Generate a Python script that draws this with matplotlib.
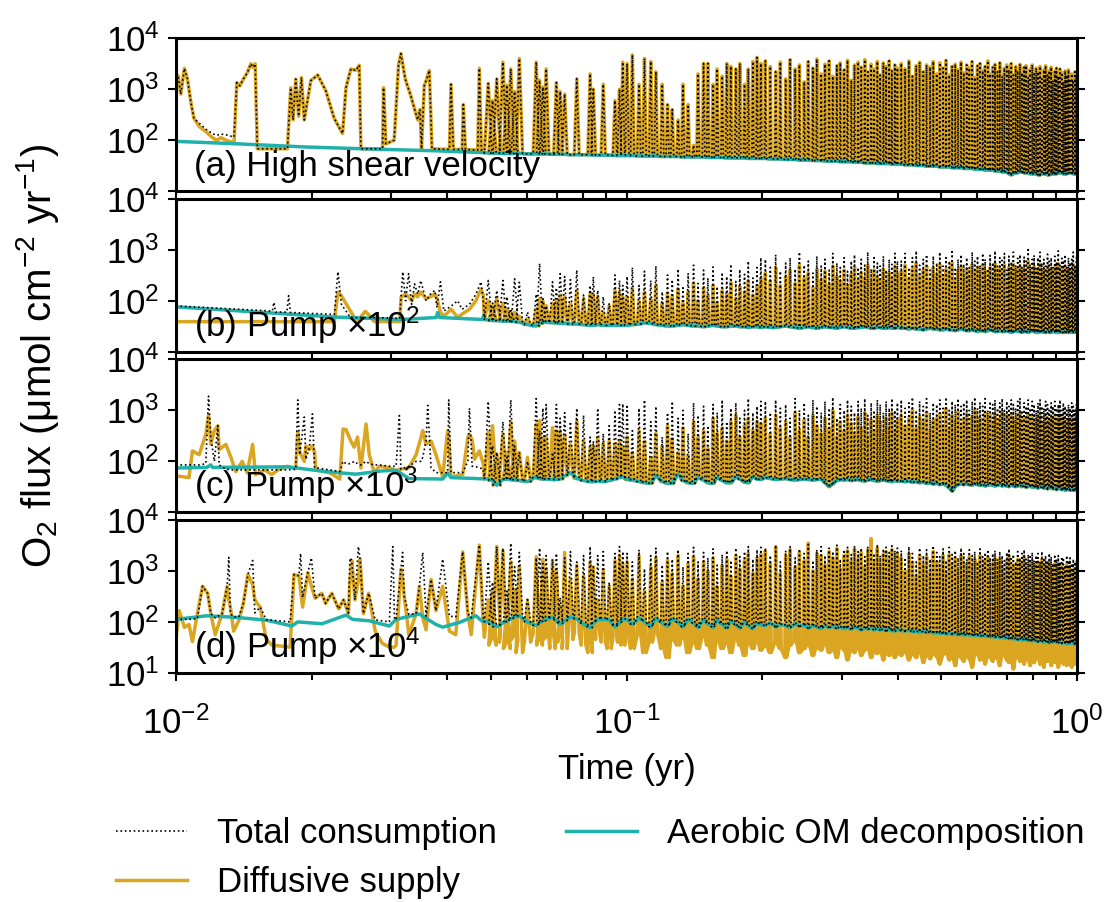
import numpy as np
import matplotlib.pyplot as plt
from matplotlib.ticker import NullLocator, LogLocator

plt.rcParams['font.family'] = ['Liberation Sans', 'DejaVu Sans']
plt.rcParams['mathtext.fontset'] = 'custom'
plt.rcParams['mathtext.rm'] = 'Liberation Sans'
plt.rcParams['mathtext.it'] = 'Liberation Sans:italic'
plt.rcParams['mathtext.bf'] = 'Liberation Sans:bold'
plt.rcParams['font.size'] = 25
plt.rcParams['axes.linewidth'] = 2.2

# times are in days (0.01 yr = 3.65 d), flux values in umol cm-2 yr-1

# ---- panel (a) early part (explicit vertices) ----
early_day_a = [3.65, 3.69, 3.74, 3.81, 3.87, 3.94, 4.00, 4.11, 4.25, 4.40, 4.49, 4.59, 4.71, 4.91,
               4.98, 5.06, 5.15, 5.26, 5.35, 5.41, 5.47, 5.53, 6.45, 6.56, 6.64, 6.73, 6.83, 6.93,
               7.03, 7.27, 7.53, 7.85, 8.19, 8.55, 8.70, 8.92, 9.15, 9.31, 9.39, 10.49, 10.54, 10.67,
               11.13, 11.38, 11.52, 11.78, 12.12, 12.55, 12.70, 12.80, 12.98, 13.14, 13.32, 13.50,
               14.76, 14.88, 15.06, 15.75, 15.85, 16.02, 17.06, 17.20, 17.38, 17.55]
early_sup_a = [1700, 1860, 800, 2570, 1580, 540, 270, 186, 148, 112, 100, 112, 100, 89,
               1350, 1170, 1580, 2140, 3160, 2700, 3160, 68, 68, 1070, 250, 1580, 295, 1700,
               250, 1480, 1900, 930, 270, 135, 1070, 2500, 2340, 2950, 68, 68, 1070, 85,
               100, 2950, 5000, 1580, 740, 250, 400, 68, 1170, 1580, 2340, 68,
               66, 1250, 66, 66, 500, 66, 64, 2570, 64, 64]
early_tot_a = [1700, 1860, 800, 2570, 1580, 540, 270, 215, 165, 135, 125, 132, 128, 115,
               1350, 1170, 1580, 2140, 3160, 2700, 3160, 68, 68, 1070, 250, 1580, 295, 1700,
               250, 1480, 1900, 930, 270, 135, 1070, 2500, 2340, 2950, 68, 68, 1070, 85,
               100, 2950, 5000, 1580, 740, 250, 400, 68, 1170, 1580, 2340, 68,
               66, 1250, 66, 66, 500, 66, 64, 2570, 64, 64]
aer_early_day_a = [3.65, 5.0, 7.0, 10.0, 13.8, 17.7]
aer_early_a = [95, 85, 74, 67, 62, 57]

# ---- panel (b) early part ----
early_day_b = [3.65, 5.97, 6.02, 6.07, 6.43, 6.49, 6.55, 8.20, 8.35, 8.50, 8.90, 9.20, 9.60, 9.80,
               10.05, 11.45, 11.53, 11.63, 11.80, 11.98, 12.17, 12.35, 12.55, 12.75, 13.10, 13.40,
               13.70, 13.85, 14.10, 14.35, 14.90, 15.40, 15.75, 16.35, 16.90, 17.35, 17.55]
early_tot_b = [79, 63, 93, 60, 60, 126, 59, 54, 370, 85, 47, 47, 47, 47,
               47, 45, 120, 370, 100, 340, 85, 215, 135, 250, 100, 135,
               160, 74, 235, 63, 79, 100, 68, 85, 135, 235, 100]
early_sup_b = [39, 39, 39, 39, 39, 39, 39, 39, 148, 125, 63, 39, 62, 52,
               39, 39, 118, 125, 135, 120, 100, 135, 120, 148, 110, 120,
               135, 110, 60, 50, 68, 47, 55, 68, 100, 170, 130]
aer_early_day_b = [3.65, 8.2, 11.6, 13.8, 13.9, 14.05, 17.45, 17.6, 17.75]
aer_early_b = [76, 48, 43, 47, 59, 47, 43, 52, 43]

# ---- panel (c) early part ----
early_day_c = [3.65, 3.90, 3.97, 4.11, 4.25, 4.31, 4.36, 4.44, 4.52, 4.55, 4.71, 4.84, 4.95, 5.12,
               5.25, 5.40, 5.48, 5.75, 5.95, 6.15, 6.45, 6.73, 6.80, 6.87, 7.03, 7.09, 7.21, 7.33,
               7.41, 7.46, 8.00, 8.43, 8.57, 8.70, 8.92, 9.07, 9.23, 9.39, 9.64, 9.80, 10.05, 10.32,
               10.86, 11.24, 11.43, 11.52, 12.00, 12.45, 12.77, 12.88, 13.10, 13.21, 13.44, 13.78,
               14.26, 14.63, 14.71, 14.88, 15.80, 16.22, 16.35, 16.58, 16.79, 17.20, 17.55]
early_tot_c = [85, 85, 85, 85, 90, 1900, 300, 100, 500, 85, 70, 68, 68, 68,
               68, 68, 68, 68, 68, 68, 68, 70, 1600, 135, 740, 110, 180, 850,
               75, 75, 68, 63, 100, 90, 90, 100, 90, 85, 100, 90, 85, 85,
               80, 80, 790, 70, 80, 100, 100, 120, 250, 1250, 75, 60,
               60, 60, 1600, 60, 60, 100, 1100, 80, 80, 75, 70]
early_sup_c = [52, 48, 160, 135, 340, 800, 215, 400, 500, 170, 215, 115, 63, 100,
               60, 215, 55, 68, 55, 68, 80, 72, 370, 150, 100, 200, 170, 200,
               150, 68, 60, 45, 430, 420, 250, 190, 300, 74, 540, 135, 60, 80,
               75, 65, 70, 70, 75, 135, 295, 400, 215, 230, 250, 135,
               50, 400, 300, 50, 55, 295, 340, 260, 110, 160, 90]
aer_early_day_c = [3.65, 4.27, 4.36, 4.40, 6.45, 7.85, 9.15, 10.50, 11.24, 12.00, 14.26, 14.63, 14.88, 17.90]
aer_early_c = [74, 76, 85, 76, 78, 63, 56, 65, 67, 46, 45, 59, 48, 45]

# ---- panel (d) early part ----
early_day_d = [3.65, 3.71, 3.81, 3.90, 3.97, 4.07, 4.18, 4.29, 4.36, 4.46, 4.62, 4.74, 4.78, 4.82,
               4.90, 5.03, 5.15, 5.27, 5.40, 5.46, 5.61, 5.79, 5.96, 6.54, 6.67, 6.84, 6.90, 6.97,
               7.16, 7.29, 7.43, 7.69, 7.84, 8.09, 8.38, 8.59, 8.81, 8.88, 8.96, 9.11, 9.27, 9.35,
               9.51, 9.77, 10.10, 10.47, 10.86, 11.05, 11.15, 11.24, 11.52, 11.62, 11.72, 12.00,
               12.45, 12.66, 12.88, 13.10, 13.44, 13.78, 14.26, 14.76, 15.25, 15.80, 16.22, 16.50,
               17.20, 17.55]
early_sup_d = [48, 166, 78, 89, 41, 145, 500, 365, 145, 56, 145, 500, 270, 195,
               66, 105, 230, 850, 540, 270, 195, 45, 35, 32, 850, 800, 425, 195,
               930, 500, 290, 365, 230, 365, 180, 270, 145, 680, 1600, 270, 680, 1700,
               145, 365, 66, 38, 32, 32, 32, 35, 1080, 680, 310, 56,
               145, 500, 122, 70, 680, 166, 500, 66, 56, 2350, 145, 56,
               3200, 89]
early_tot_d = [112, 112, 112, 113, 113, 115, 500, 365, 145, 120, 145, 500, 1850, 145,
               125, 125, 230, 850, 1600, 150, 195, 110, 108, 100, 850, 800, 2200, 300,
               930, 1800, 290, 365, 230, 365, 180, 270, 150, 1800, 1600, 270, 3000, 1700,
               145, 365, 110, 105, 100, 3000, 110, 115, 1080, 2300, 310, 140,
               145, 500, 2300, 130, 680, 166, 1700, 130, 125, 2350, 145, 120,
               3200, 120]
aer_early_day_d = [3.65, 4.27, 4.95, 5.80, 6.60, 6.80, 7.70, 8.70, 9.00, 9.80, 10.86, 11.24,
                   12.66, 13.78, 14.26, 15.50, 16.90, 17.40]
aer_early_d = [112, 132, 123, 108, 83, 100, 92, 136, 112, 105, 83, 112,
               143, 89, 79, 97, 132, 105]

# ---- spike events after ~0.05 yr (event day, shared by all panels) ----
event_day = [18.0, 18.4, 18.8, 19.4, 19.8, 20.2, 20.6, 21.1, 22.0, 23.0, 23.4, 23.8, 24.2, 25.0,
             25.5, 26.0, 26.6, 27.4, 28.3, 29.3, 30.3, 30.8, 31.5, 32.4, 33.4, 34.4, 35.2, 35.8,
             36.6, 37.6, 38.9, 40.0, 41.3, 42.4, 43.8, 45.0, 46.1, 47.5, 48.7, 50.0, 51.4, 52.6,
             54.1, 55.3, 56.8, 58.0, 59.5, 60.9, 62.2, 63.8, 65.1, 66.7, 68.0, 69.6, 71.1, 72.5,
             74.2, 76.1, 78.2, 80.1, 82.3, 84.2, 86.4, 88.3, 90.5, 92.4, 94.6, 96.5, 98.7, 100.6,
             102.8, 104.7, 106.9, 108.8, 111.0, 112.9, 115.1, 117.0, 119.2, 121.1, 123.3, 125.2,
             127.4, 129.3, 131.5, 133.4, 135.6, 137.5, 139.7, 141.6, 143.8, 145.7,
             148.6, 151.5, 154.5, 157.3, 160.4, 163.2, 166.3, 169.1, 172.2, 175.0,
             178.1, 180.9, 184.0, 186.8, 189.9, 192.7, 195.8, 198.6, 201.7, 204.5,
             207.6, 210.4, 213.5, 216.3, 219.4, 222.2, 225.3, 228.1, 231.2, 234.0,
             237.1, 239.9, 243.0, 245.8, 248.9, 251.7, 254.8, 257.6, 260.7, 263.5,
             266.6, 269.4, 272.5, 275.3, 278.4, 281.2, 284.3, 287.1, 290.2, 293.0,
             296.1, 298.9, 302.0, 304.8, 307.9, 310.7, 313.8, 316.6, 319.7, 322.5,
             325.6, 328.4, 331.5, 334.3, 337.4, 340.2, 343.3, 346.1, 349.2, 352.0,
             355.1, 357.9, 361.0, 363.8]

# panel (a): supply and total coincide
peak_a = [1300, 600, 1600, 3400, 1200, 2500, 900, 4000, 54, 3400, 1500, 1100, 2500, 53,
          1350, 900, 800, 52, 1600, 52, 2000, 1000, 51, 1250, 51, 600, 1000, 3400,
          3200, 4700, 1250, 4000, 3500, 2200, 1250, 500, 400, 250, 1250, 500, 80, 2000,
          3200, 3200, 1250, 2500, 1800, 3200, 2800, 2500, 3200, 1250, 2500, 3500, 4200, 3200,
          3600, 2800, 2200, 3400, 1600, 3800, 2500, 3000, 1400, 3500,
          2600, 3900, 2000, 3100, 3600, 1800, 2900, 3300, 2400, 3700,
          1500, 3000, 3400, 2700, 3800, 2200, 3100, 2500, 3500, 1900,
          3300, 2800, 3600, 2300, 3000, 2600,
          3200, 2500, 3600, 1800, 2900, 3400, 2200, 3000, 2700, 3500,
          2000, 3300, 2600, 3700, 1900, 2800, 3100, 2400, 3400, 2100,
          3000, 2600, 3500, 1700, 2900, 3200, 2300, 2800, 3600, 2000,
          2700, 3100, 2200, 3300, 1800, 2600, 3000, 2400, 3200, 1900,
          2800, 2300, 3100, 2100, 2700, 2900, 1700, 2500, 3000, 2000,
          2600, 2200, 2800, 1600, 2400, 2900, 1900, 2300, 2700, 1500,
          2200, 2600, 1800, 2500, 2100, 1400, 2300, 1900, 2400, 1600,
          2000, 1500, 2200, 1800]
aer_a = [56, 56, 56, 55, 55, 55, 55, 55, 54, 54, 54, 54, 54, 53,
         53, 53, 53, 52, 52, 52, 52, 51, 51, 51, 51, 50, 50, 50,
         50, 50, 49, 49, 49, 49, 48, 48, 48, 48, 47, 47, 47, 47,
         47, 46, 46, 46, 46, 45, 45, 45, 45, 45, 44, 44, 44, 44,
         44, 43, 43, 43, 42, 42, 42, 41, 41, 41, 40, 40, 40, 39,
         39, 39, 39, 38, 38, 38, 38, 37, 37, 37, 36, 36, 36, 36,
         35, 35, 35, 35, 35, 34, 34, 34,
         34, 33, 33, 33, 32, 32, 32, 31, 31, 31,
         31, 30, 30, 30, 30, 29, 29, 29, 29, 28,
         28, 28, 28, 27, 27, 27, 27, 26, 26, 26,
         26, 25, 25, 25, 24, 24, 24, 22, 21, 22,
         23, 23, 24, 24, 23, 23, 23, 22, 22, 22,
         22, 21, 21, 22, 22, 22, 21, 21, 22, 22,
         22, 22, 23, 23, 23, 22, 22, 22, 23, 23,
         23, 22, 22, 22]

# panel (b)
tot_b = [250, 90, 160, 250, 120, 70, 270, 230, 60, 135, 540, 110, 80, 235,
         180, 340, 300, 260, 400, 130, 200, 295, 160, 120, 90, 320, 250, 200,
         300, 450, 200, 380, 250, 480, 150, 320, 260, 420, 180, 350, 500, 220,
         400, 280, 460, 190, 360, 300, 520, 240, 410, 330, 600, 280, 450, 700,
         650, 450, 800, 380, 550, 700, 420, 900, 500, 600,
         350, 750, 480, 650, 400, 850, 550, 450, 700, 380,
         600, 800, 450, 650, 500, 900, 420, 700, 550, 480,
         750, 400, 650, 520, 850, 600,
         600, 850, 450, 700, 950, 500, 650, 800, 400, 750,
         550, 900, 480, 700, 600, 1000, 450, 650, 800, 520,
         700, 450, 900, 600, 750, 500, 850, 650, 420, 780,
         560, 950, 480, 700, 620, 850, 400, 750, 580, 900,
         500, 680, 800, 450, 720, 600, 1100, 520, 650, 780,
         430, 700, 900, 550, 650, 480, 820, 600, 700, 450,
         750, 580, 950, 500, 680, 620, 800, 450, 700, 560,
         650, 900, 500, 700]
sup_b = [100, 80, 110, 90, 70, 55, 60, 50, 45, 70, 110, 100, 80, 90,
         100, 130, 120, 90, 160, 110, 140, 135, 120, 60, 80, 160, 150, 120,
         120, 180, 100, 150, 110, 200, 90, 140, 120, 170, 90, 150, 220, 100,
         180, 130, 200, 90, 160, 140, 230, 110, 190, 150, 250, 130, 200, 280,
         350, 250, 450, 200, 300, 400, 220, 500, 280, 350,
         180, 420, 260, 380, 210, 480, 300, 240, 400, 200,
         330, 450, 250, 360, 280, 500, 230, 400, 300, 260,
         420, 220, 360, 290, 480, 330,
         380, 500, 280, 420, 550, 300, 400, 480, 250, 450,
         330, 520, 290, 420, 360, 560, 270, 400, 480, 310,
         420, 270, 520, 360, 450, 300, 500, 390, 250, 460,
         340, 540, 290, 420, 370, 500, 240, 450, 350, 520,
         300, 410, 480, 270, 430, 360, 600, 310, 390, 470,
         260, 420, 520, 330, 390, 290, 480, 360, 420, 270,
         450, 350, 540, 300, 410, 370, 480, 270, 420, 340,
         390, 520, 300, 420]
aer_b = [42, 41, 41, 40, 40, 40, 39, 38, 34, 32, 36, 38, 38, 37,
         37, 36, 36, 35, 35, 34, 33, 33, 34, 33, 33, 33, 33, 33,
         33, 34, 35, 37, 36, 34, 33, 32, 32, 33, 34, 33, 32, 32,
         31, 32, 33, 32, 31, 31, 32, 32, 31, 31, 30, 31, 31, 30,
         31, 30, 30, 31, 32, 31, 30, 29, 30, 31,
         30, 29, 30, 31, 30, 30, 29, 30, 31, 30,
         29, 29, 30, 30, 31, 30, 29, 29, 30, 30,
         29, 29, 30, 29, 29, 30,
         29, 29, 28, 29, 28, 28, 27, 28, 29, 28,
         28, 27, 27, 28, 27, 27, 26, 27, 28, 27,
         26, 26, 27, 26, 25, 26, 26, 25, 26, 27,
         26, 25, 25, 26, 25, 25, 26, 25, 24, 25,
         26, 25, 25, 24, 25, 25, 24, 25, 26, 25,
         24, 24, 25, 25, 24, 24, 25, 24, 24, 25,
         25, 24, 24, 25, 24, 24, 25, 24, 24, 25,
         24, 24, 25, 24]

# panel (c)
tot_c = [1500, 200, 150, 600, 120, 1600, 200, 150, 100, 1700, 400, 1100, 1300, 150,
         1300, 700, 900, 600, 1100, 800, 300, 250, 1100, 350, 500, 1000, 1300, 1350,
         1300, 400, 1100, 1600, 600, 1200, 300, 900, 1500, 700, 1000, 350, 1400, 800,
         1200, 500, 1300, 900, 1600, 600, 1100, 1400, 700, 1000, 1700, 900, 1200, 1500,
         1500, 900, 1600, 1100, 1300, 700, 1700, 1000, 1400, 800,
         1600, 1200, 900, 1500, 1100, 1800, 700, 1300, 1000, 1600,
         1200, 900, 1500, 1100, 1700, 800, 1400, 1000, 1600, 1300,
         900, 1500, 1100, 1700, 1000, 1400,
         1600, 1100, 1400, 1800, 1000, 1500, 1200, 1700, 900, 1400,
         1300, 1600, 1100, 1800, 1000, 1500, 1300, 1700, 1200, 1400,
         1600, 1000, 1500, 1800, 1100, 1400, 1200, 1700, 1000, 1500,
         1300, 1600, 1100, 1400, 1700, 1000, 1500, 1200, 1600, 1300,
         1100, 1500, 1700, 1000, 1400, 1200, 1600, 1100, 1500, 1300,
         1000, 1400, 1600, 1200, 1100, 1500, 1300, 1000, 1400, 1200,
         1500, 1100, 1300, 1600, 1000, 1400, 1200, 1000, 1300, 1100,
         1400, 1200, 1000, 1300]
sup_c = [370, 500, 140, 340, 150, 590, 250, 150, 120, 540, 630, 290, 300, 460,
         400, 400, 330, 215, 630, 260, 185, 200, 290, 230, 250, 220, 260, 190,
         300, 150, 400, 250, 120, 350, 200, 500, 280, 150, 450, 130, 600, 300,
         400, 180, 700, 350, 450, 250, 600, 800, 300, 500, 700, 400, 600, 550,
         700, 350, 800, 450, 600, 300, 900, 400, 650, 300,
         800, 500, 350, 700, 450, 1000, 300, 600, 400, 800,
         550, 350, 750, 450, 900, 300, 650, 400, 800, 600,
         350, 700, 450, 900, 400, 650,
         800, 500, 700, 1000, 450, 750, 600, 900, 400, 650,
         700, 850, 500, 1100, 450, 800, 600, 950, 550, 700,
         850, 450, 750, 1000, 500, 700, 550, 900, 450, 800,
         600, 850, 500, 700, 950, 450, 800, 600, 850, 650,
         500, 750, 900, 450, 700, 550, 850, 500, 750, 650,
         450, 700, 800, 550, 500, 750, 600, 450, 700, 550,
         750, 500, 650, 800, 450, 700, 550, 450, 650, 500,
         700, 550, 450, 600]
aer_c = [45, 42, 34, 44, 45, 44, 43, 42, 40, 50, 46, 45, 45, 44,
         44, 45, 52, 60, 46, 42, 40, 40, 41, 40, 42, 45, 48, 50,
         44, 43, 40, 38, 37, 52, 40, 37, 37, 56, 42, 38, 37, 48,
         43, 38, 37, 48, 42, 38, 38, 49, 45, 39, 38, 50, 45, 44,
         48, 46, 44, 45, 46, 44, 43, 44, 45, 44,
         43, 44, 45, 38, 32, 36, 42, 44, 43, 44,
         42, 43, 44, 42, 41, 43, 44, 42, 41, 42,
         43, 42, 41, 40, 42, 41,
         41, 40, 41, 39, 40, 38, 39, 37, 38, 36,
         37, 35, 36, 34, 30, 26, 32, 35, 36, 35,
         36, 35, 34, 36, 35, 34, 35, 33, 34, 35,
         34, 33, 34, 35, 33, 34, 33, 32, 34, 33,
         32, 33, 34, 32, 33, 31, 32, 33, 31, 32,
         31, 30, 32, 31, 30, 31, 29, 30, 31, 29,
         30, 28, 29, 30, 28, 29, 27, 28, 29, 27,
         28, 27, 28, 27]

# panel (d)
tot_d = [1500, 600, 3000, 2800, 400, 3500, 1200, 2300, 300, 1800, 2800, 1400, 2000, 1700,
         2200, 300, 1800, 2400, 1500, 2000, 3000, 1200, 2000, 2400, 600, 2200, 3000, 2400,
         2200, 1500, 2600, 1100, 2000, 2800, 1300, 2400, 1700, 2600, 1200, 2200, 2900, 1500,
         2300, 1800, 2700, 1300, 2100, 2500, 1600, 2800, 1900, 2400, 3000, 1700, 2600, 2900,
         2800, 2000, 3200, 1500, 2500, 3000, 1800, 2700, 2200, 3300,
         1600, 2600, 3000, 2000, 2800, 2400, 3200, 1700, 2600, 2900,
         2100, 3100, 2400, 2800, 1900, 3000, 2500, 2200, 3300, 2000,
         2700, 2900, 2300, 3100, 2500, 2800,
         2500, 1800, 3000, 2200, 1500, 2800, 2000, 2600, 1700, 3100,
         2300, 1900, 2700, 1600, 2900, 2100, 2500, 1800, 2800, 2200,
         1700, 2600, 2000, 2400, 1500, 2700, 1900, 2300, 2600, 1800,
         2200, 2500, 1700, 2400, 2000, 1600, 2300, 2700, 1900, 2100,
         1500, 2400, 1800, 2200, 2600, 1700, 2100, 1900, 2300, 1600,
         2000, 2200, 1500, 2400, 1800, 2000, 1600, 2200, 1900, 1400,
         2100, 1700, 2000, 1500, 1900, 1800, 1300, 2000, 1600, 1800,
         1400, 1700, 1500, 1600]
sup_d = [270, 400, 3000, 2500, 200, 1500, 430, 1200, 250, 1900, 300, 1700, 1100, 1600,
         1000, 200, 2300, 700, 1300, 800, 1500, 1200, 270, 1000, 500, 1600, 2000, 1400,
         1500, 700, 2000, 400, 1200, 1800, 600, 1600, 900, 2000, 500, 1400, 1900, 700,
         1500, 1000, 1800, 500, 1300, 1700, 800, 2000, 1100, 1600, 2200, 900, 1800, 2100,
         2500, 1400, 3000, 900, 2000, 2600, 1200, 2300, 1600, 3500,
         1000, 2200, 2000, 1300, 2400, 1800, 2800, 1100, 2000, 2500,
         1500, 2700, 1700, 2300, 1200, 2600, 4300, 1500, 2800, 1300,
         2100, 2400, 1600, 2600, 1800, 2200,
         1800, 1000, 2200, 1500, 800, 2000, 1300, 1900, 900, 2400,
         1500, 1100, 2000, 900, 2100, 1300, 1800, 1000, 2000, 1400,
         900, 1900, 1200, 1700, 800, 2000, 1100, 1600, 1900, 1000,
         1400, 1800, 900, 1700, 1200, 800, 1600, 2000, 1100, 1300,
         800, 1700, 1000, 1500, 1900, 900, 1400, 1100, 1600, 800,
         1300, 1500, 800, 1700, 1000, 1300, 900, 1500, 1100, 700,
         1400, 900, 1300, 800, 1200, 1100, 700, 1300, 900, 1100,
         700, 1000, 800, 900]
aer_d = [100, 90, 80, 95, 105, 115, 125, 132, 100, 85, 97, 105, 112, 123,
         105, 90, 105, 125, 115, 90, 77, 95, 112, 112, 110, 80, 95, 112,
         112, 90, 120, 100, 80, 118, 95, 82, 115, 98, 80, 112, 95, 78,
         110, 92, 78, 108, 90, 76, 105, 88, 76, 100, 85, 74, 95, 88,
         85, 95, 80, 90, 85, 78, 92, 82, 88, 76,
         85, 80, 74, 84, 78, 82, 75, 80, 74, 78,
         72, 80, 75, 70, 77, 72, 76, 70, 74, 69,
         72, 67, 71, 68, 66, 70,
         68, 66, 69, 64, 66, 63, 65, 62, 64, 60,
         62, 59, 61, 58, 60, 57, 59, 56, 58, 55,
         57, 55, 56, 54, 55, 53, 54, 52, 53, 51,
         52, 50, 52, 49, 51, 48, 50, 47, 49, 46,
         48, 45, 47, 44, 46, 45, 43, 45, 42, 44,
         43, 41, 43, 42, 40, 42, 41, 39, 41, 40,
         42, 40, 39, 41, 38, 40, 39, 37, 39, 38,
         40, 38, 37, 38]
sup_low_d = [50, 35, 60, 40, 30, 55, 45, 25, 40, 60, 35, 50, 45, 30,
             55, 40, 30, 45, 60, 35, 25, 45, 55, 40, 30, 50, 40, 35,
             45, 30, 55, 25, 40, 60, 30, 20, 45, 35, 50, 25, 40, 30,
             55, 35, 20, 45, 30, 40, 25, 50, 35, 22, 40, 30, 45, 28,
             35, 25, 40, 30, 20, 35, 45, 25, 30, 38,
             22, 32, 28, 40, 25, 30, 20, 35, 28, 18,
             30, 25, 35, 22, 28, 32, 20, 27, 24, 30,
             18, 26, 22, 28, 20, 25,
             22, 28, 18, 25, 20, 30, 16, 24, 19, 26,
             21, 15, 23, 27, 18, 22, 14, 25, 20, 17,
             24, 19, 13, 22, 26, 18, 21, 15, 24, 20,
             17, 23, 19, 14, 22, 25, 18, 16, 21, 12,
             20, 24, 17, 19, 15, 22, 18, 14, 21, 16,
             19, 23, 15, 18, 13, 20, 17, 22, 14, 18,
             16, 21, 13, 19, 17, 15, 20, 14, 18, 16,
             13, 19, 15, 17]

panel_labels = ['(a) High shear velocity', '(b) Pump \u00d710$^2$',
                '(c) Pump \u00d710$^3$', '(d) Pump \u00d710$^4$']

C_SUP = '#DAA520'
C_AER = '#20B2AA'


def series(day0, val0, days, peaks, lows, half=0.35):
    t = list(day0)
    v = list(val0)
    for d, p, lo in zip(days, peaks, lows):
        t += [d - half, d, d + half]
        v += [lo, p, lo]
    return np.array(t) / 365.0, np.array(v)


def aerobic(day0, val0, days, vals):
    return np.array(list(day0) + list(days)) / 365.0, np.array(list(val0) + list(vals))


data = [
    (series(early_day_a, early_tot_a, event_day, peak_a, aer_a),
     series(early_day_a, early_sup_a, event_day, peak_a, aer_a),
     aerobic(aer_early_day_a, aer_early_a, event_day, aer_a)),
    (series(early_day_b, early_tot_b, event_day, tot_b, aer_b),
     series(early_day_b, early_sup_b, event_day, sup_b, aer_b),
     aerobic(aer_early_day_b, aer_early_b, event_day, aer_b)),
    (series(early_day_c, early_tot_c, event_day, tot_c, aer_c),
     series(early_day_c, early_sup_c, event_day, sup_c, aer_c),
     aerobic(aer_early_day_c, aer_early_c, event_day, aer_c)),
    (series(early_day_d, early_tot_d, event_day, tot_d, aer_d),
     series(early_day_d, early_sup_d, event_day, sup_d, sup_low_d),
     aerobic(aer_early_day_d, aer_early_d, event_day, aer_d)),
]

fig = plt.figure(figsize=(11.07, 9.02), dpi=100)
bottoms = [0.788, 0.610, 0.432, 0.254]

for i, ((tt, vt), (ts, vs), (ta, va)) in enumerate(data):
    ax = fig.add_axes([0.159, bottoms[i], 0.814, 0.1696])
    l_sup, = ax.plot(ts, vs, color=C_SUP, lw=2.5, zorder=1)
    l_aer, = ax.plot(ta, va, color=C_AER, lw=2.5, zorder=2)
    l_tot, = ax.plot(tt, vt, color='black', lw=1.2, ls=':', zorder=3)
    ax.set_xscale('log')
    ax.set_yscale('log')
    ax.set_xlim(0.01, 1)
    ax.set_ylim(10, 1e4)
    ax.set_yticks([1e1, 1e2, 1e3, 1e4])
    ylabels = ['$10^{1}$', '$10^{2}$', '$10^{3}$', '$10^{4}$']
    if i < 3:
        ylabels[0] = ''
    ax.set_yticklabels(ylabels)
    ax.yaxis.set_minor_locator(NullLocator())
    ax.xaxis.set_major_locator(LogLocator(base=10, numticks=10))
    ax.xaxis.set_minor_locator(LogLocator(base=10, subs=np.arange(2, 10), numticks=10))
    ax.tick_params(axis='y', which='major', direction='out', length=6, width=1.5,
                   right=True, labelright=False, pad=6)
    ax.tick_params(axis='x', which='major', direction='out', length=6, width=1.5,
                   top=False, pad=18, labelbottom=(i == 3))
    ax.tick_params(axis='x', which='minor', direction='out', length=5, width=1.5, top=False)
    ax.text(0.02, 0.1, panel_labels[i], transform=ax.transAxes, fontsize=25,
            va='baseline', ha='left', zorder=5)

fig.text(0.034, 0.606, 'O$_2$ flux (\u03bcmol cm$^{-2}$ yr$^{-1}$)', rotation=90,
         ha='center', va='center', fontsize=29)
fig.text(0.566, 0.147, 'Time (yr)', ha='center', va='center', fontsize=25)

fig.legend([l_tot, l_sup, l_aer],
           ['Total consumption', 'Diffusive supply', 'Aerobic OM decomposition'],
           loc='upper left', bbox_to_anchor=(0.105, 0.094), ncol=2, frameon=False,
           fontsize=25, handlelength=2.05, handletextpad=0.85, columnspacing=2.0,
           labelspacing=0.45, borderpad=0, borderaxespad=0)

fig.savefig('out.png', dpi=100)
